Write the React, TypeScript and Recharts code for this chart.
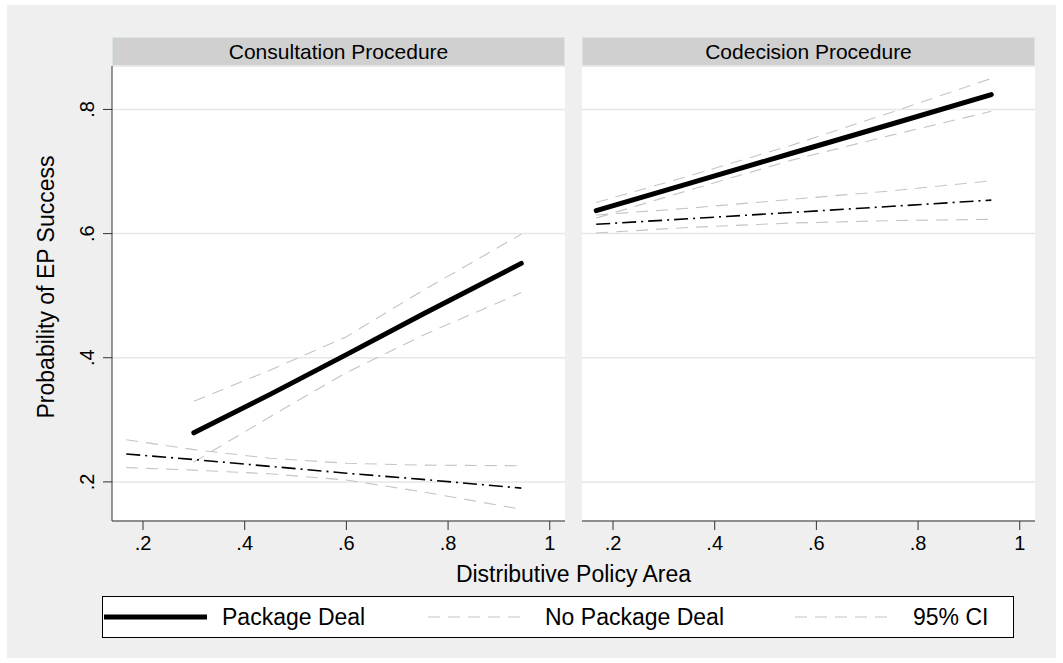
import { CartesianGrid, Line, LineChart, XAxis, YAxis } from 'recharts'

const xTicks = [0.2, 0.4, 0.6, 0.8, 1]
const yTicks = [0.2, 0.4, 0.6, 0.8]
const panelTitles = ['Consultation Procedure', 'Codecision Procedure']
const legendLabels = ['Package Deal', 'No Package Deal', '95% CI']
const xTitle = 'Distributive Policy Area'
const yTitle = 'Probability of EP Success'

// consultation procedure
const consultDealX = [0.3, 0.45, 0.6, 0.75, 0.944]
const consultDeal = [0.279, 0.341, 0.405, 0.47, 0.552]
const consultDealHi = [0.33, 0.38, 0.434, 0.508, 0.599]
const consultDealLo = [0.232, 0.305, 0.376, 0.436, 0.505]
const consultNoDealX = [0.167, 0.3, 0.45, 0.6, 0.75, 0.944]
const consultNoDeal = [0.245, 0.236, 0.225, 0.214, 0.204, 0.19]
const consultNoDealHi = [0.268, 0.252, 0.238, 0.23, 0.227, 0.226]
const consultNoDealLo = [0.223, 0.219, 0.213, 0.203, 0.184, 0.156]

// codecision procedure
const codecX = [0.167, 0.35, 0.55, 0.75, 0.944]
const codecDeal = [0.637, 0.681, 0.729, 0.777, 0.824]
const codecDealHi = [0.65, 0.693, 0.742, 0.796, 0.85]
const codecDealLo = [0.625, 0.67, 0.718, 0.759, 0.797]
const codecNoDeal = [0.615, 0.624, 0.634, 0.644, 0.654]
const codecNoDealHi = [0.63, 0.641, 0.655, 0.669, 0.685]
const codecNoDealLo = [0.601, 0.61, 0.617, 0.621, 0.623]

const pts = (xs: number[], ys: number[]) => xs.map((x, i) => ({ x, y: ys[i] }))

const fmt = (v: number) => (v >= 1 ? '1' : String(+v.toFixed(1)).replace(/^0/, ''))

const FONT = '"Liberation Sans", Arial, Helvetica, sans-serif'
const CI_COLOR = '#c4c4c4'

type PanelData = {
    deal: { x: number; y: number }[]
    dealHi: { x: number; y: number }[]
    dealLo: { x: number; y: number }[]
    noDeal: { x: number; y: number }[]
    noDealHi: { x: number; y: number }[]
    noDealLo: { x: number; y: number }[]
}

const panels: PanelData[] = [
    {
        deal: pts(consultDealX, consultDeal),
        dealHi: pts(consultDealX, consultDealHi),
        dealLo: pts(consultDealX, consultDealLo),
        noDeal: pts(consultNoDealX, consultNoDeal),
        noDealHi: pts(consultNoDealX, consultNoDealHi),
        noDealLo: pts(consultNoDealX, consultNoDealLo),
    },
    {
        deal: pts(codecX, codecDeal),
        dealHi: pts(codecX, codecDealHi),
        dealLo: pts(codecX, codecDealLo),
        noDeal: pts(codecX, codecNoDeal),
        noDealHi: pts(codecX, codecNoDealHi),
        noDealLo: pts(codecX, codecNoDealLo),
    },
]

// rotated y tick labels, Stata style
const YTick = (props: any) => {
    const { y, payload } = props
    return (
        <text x={94} y={y} transform={`rotate(-90 94 ${y})`} textAnchor="middle" fontSize={20} fill="#000">
            {fmt(payload.value)}
        </text>
    )
}

const Panel = ({ left, width, showY, data }: { left: number; width: number; showY: boolean; data: PanelData }) => (
    <div style={{ position: 'absolute', left, top: 0 }}>
        <LineChart width={width} height={663} margin={{ top: 66, right: 0, bottom: 112, left: 0 }}>
            <CartesianGrid vertical={false} fill="#fff" stroke="#e6e6e6" strokeWidth={1.5} />
            <XAxis
                type="number"
                dataKey="x"
                domain={[0.139, 1.03]}
                ticks={xTicks}
                allowDataOverflow
                height={30}
                tickSize={9}
                tickMargin={6}
                tickFormatter={fmt}
                stroke="#333"
                tick={{ fill: '#000', fontSize: 20 }}
            />
            <YAxis
                type="number"
                dataKey="y"
                domain={[0.137, 0.87]}
                ticks={yTicks}
                allowDataOverflow
                hide={!showY}
                width={112}
                tickSize={9}
                stroke="#333"
                tick={<YTick />}
            />
            <Line data={data.dealHi} dataKey="y" stroke={CI_COLOR} strokeWidth={1.1} strokeDasharray="12 8" dot={false} activeDot={false} isAnimationActive={false} />
            <Line data={data.dealLo} dataKey="y" stroke={CI_COLOR} strokeWidth={1.1} strokeDasharray="12 8" dot={false} activeDot={false} isAnimationActive={false} />
            <Line data={data.noDealHi} dataKey="y" stroke={CI_COLOR} strokeWidth={1.1} strokeDasharray="12 8" dot={false} activeDot={false} isAnimationActive={false} />
            <Line data={data.noDealLo} dataKey="y" stroke={CI_COLOR} strokeWidth={1.1} strokeDasharray="12 8" dot={false} activeDot={false} isAnimationActive={false} />
            <Line data={data.noDeal} dataKey="y" stroke="#000" strokeWidth={1.6} strokeDasharray="14 5 2 5" dot={false} activeDot={false} isAnimationActive={false} />
            <Line data={data.deal} dataKey="y" stroke="#000" strokeWidth={5} strokeLinecap="round" dot={false} activeDot={false} isAnimationActive={false} />
        </LineChart>
    </div>
)

const legendItems = [
    { x1: 104, x2: 207, tx: 222, stroke: '#000', width: 5, dash: undefined },
    { x1: 428, x2: 527, tx: 545, stroke: CI_COLOR, width: 1.1, dash: '12 8' },
    { x1: 795, x2: 895, tx: 913, stroke: CI_COLOR, width: 1.1, dash: '12 8' },
]

const App = () => {
    return (
        <div style={{ position: 'absolute', left: 0, top: 0, width: 1063, height: 663, background: '#fff', fontFamily: FONT }}>
            <svg width={1063} height={663} style={{ position: 'absolute', left: 0, top: 0 }}>
                <rect x={7} y={5} width={1049} height={653} fill="#efefef" />
                {[112, 582].map((px, i) => (
                    <g key={px}>
                        <rect x={px + 0.5} y={37.5} width={452} height={28} fill="#d0d0d0" stroke="#dae3e7" />
                        <text x={px + 226.5} y={58.5} textAnchor="middle" fontSize={21} fill="#000">
                            {panelTitles[i]}
                        </text>
                    </g>
                ))}
                <text x={54} y={287} transform="rotate(-90 54 287)" textAnchor="middle" fontSize={23} fill="#000">
                    {yTitle}
                </text>
                <text x={573.5} y={582} textAnchor="middle" fontSize={23} fill="#000">
                    {xTitle}
                </text>
                <rect x={102.5} y={596.5} width={911} height={41} fill="#fff" stroke="#000" />
                {legendItems.map((it, i) => (
                    <g key={i}>
                        <line x1={it.x1} x2={it.x2} y1={617} y2={617} stroke={it.stroke} strokeWidth={it.width} strokeDasharray={it.dash} />
                        <text x={it.tx} y={625} fontSize={23} fill="#000">
                            {legendLabels[i]}
                        </text>
                    </g>
                ))}
            </svg>
            <Panel left={0} width={565} showY data={panels[0]} />
            <Panel left={582} width={453} showY={false} data={panels[1]} />
        </div>
    )
}

export default App
